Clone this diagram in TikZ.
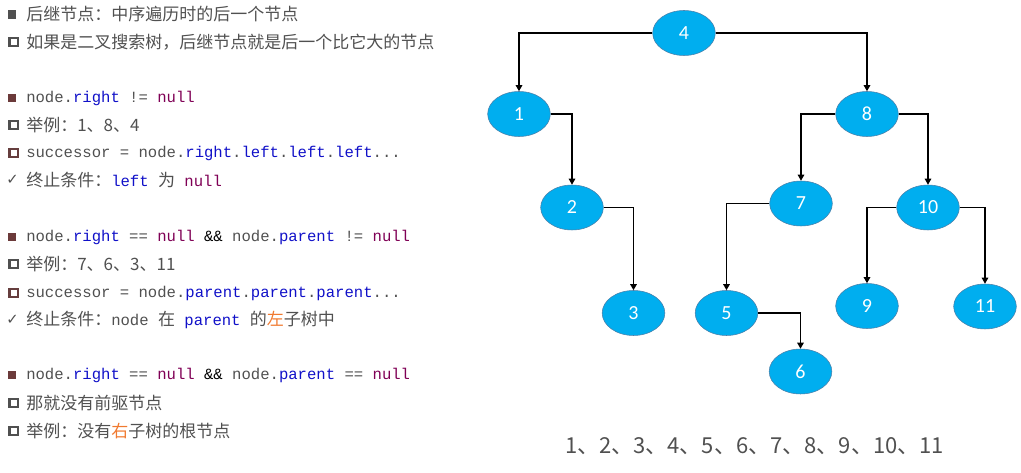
\documentclass[tikz,border=0pt]{standalone}
\usepackage{fontspec}
\setmainfont{Noto Sans CJK SC}
\setmonofont{Liberation Mono}
\newfontfamily\numfont{Carlito}
\newfontfamily\symfont{DejaVu Sans}
\usetikzlibrary{shapes.geometric,arrows.meta}
\definecolor{nodeblue}{HTML}{00AEEF}
\definecolor{nodeline}{HTML}{4A7EA8}
\definecolor{txtgray}{HTML}{505050}
\definecolor{kwblue}{HTML}{1010C8}
\definecolor{nullred}{HTML}{7F0055}
\definecolor{bulred}{HTML}{6B3A3A}
\definecolor{hiorange}{HTML}{F07A30}
\newcommand\code[1]{{\ttfamily\fontsize{11.7pt}{14pt}\selectfont #1}}
\newcommand\fld[1]{\textcolor{kwblue}{#1}}
\newcommand\nul{\textcolor{nullred}{null}}
\newcommand\hi[1]{\textcolor{hiorange}{#1}}

\begin{document}
\begin{tikzpicture}[x=0.75pt,y=-0.75pt,
	line/.style={anchor=west,inner sep=0,text=txtgray,font=\fontsize{12.75pt}{15pt}\selectfont},
	fsq/.style={fill=#1,inner sep=0,minimum size=6.2pt},
	hsq/.style={draw=#1,line width=1.8pt,inner sep=0,minimum size=6.2pt},
	ticknode/.style={anchor=west,inner sep=0,text=txtgray,font=\symfont\fontsize{11pt}{13pt}\selectfont},
	tnode/.style={ellipse,fill=nodeblue,draw=nodeline,line width=0.4pt,minimum width=47pt,minimum height=33.75pt,inner sep=0,text=white,font=\numfont\fontsize{15pt}{18pt}\selectfont},
	edge/.style={draw=black,line width=1.1pt,-{Triangle[length=4.5pt,width=4.8pt]}}]
	\useasboundingbox (0,0) rectangle (1021,473);
	\node[fsq=txtgray] (b1) at (12,14.5) {};
	\node[line] (l1) at (26,14) {后继节点：中序遍历时的后一个节点};
	\node[hsq=txtgray] (b2) at (13.6,42) {};
	\node[line] (l2) at (26,42) {如果是二叉搜索树，后继节点就是后一个比它大的节点};
	\node[fsq=bulred] (b3) at (12,98) {};
	\node[line] (l3) at (26,98) {\code{node.\fld{right} != \nul}};
	\node[hsq=txtgray] (b4) at (13.6,125) {};
	\node[line] (l4) at (26,125) {举例：1、8、4};
	\node[hsq=bulred!80!txtgray] (b5) at (13.6,153) {};
	\node[line] (l5) at (26,153) {\code{successor = node.\fld{right}.\fld{left}.\fld{left}.\fld{left}...}};
	\node[ticknode] (b6) at (6,180) {✓};
	\node[line] (l6) at (26,180) {终止条件：\code{\fld{left} }为\code{ \nul}};
	\node[fsq=bulred] (b7) at (12,237) {};
	\node[line] (l7) at (26,237) {\code{node.\fld{right} == \nul{} \textcolor{black}{\&\&} node.\fld{parent} != \nul}};
	\node[hsq=txtgray] (b8) at (13.6,264) {};
	\node[line] (l8) at (26,264) {举例：7、6、3、11};
	\node[hsq=bulred!80!txtgray] (b9) at (13.6,293) {};
	\node[line] (l9) at (26,293) {\code{successor = node.\fld{parent}.\fld{parent}.\fld{parent}...}};
	\node[ticknode] (b10) at (6,320) {✓};
	\node[line] (l10) at (26,320) {终止条件：\code{node }在\code{ \fld{parent} }的\hi{左}子树中};
	\node[fsq=bulred] (b11) at (12,375) {};
	\node[line] (l11) at (26,375) {\code{node.\fld{right} == \nul{} \textcolor{black}{\&\&} node.\fld{parent} == \nul}};
	\node[hsq=txtgray] (b12) at (13.6,403) {};
	\node[line] (l12) at (26,403) {那就没有前驱节点};
	\node[hsq=txtgray] (b13) at (13.6,431) {};
	\node[line] (l13) at (26,431) {举例：没有\hi{右}子树的根节点};
	\node[tnode] (n4) at (684,33) {4};
	\node[tnode] (n1) at (519,114) {1};
	\node[tnode] (n8) at (867,114) {8};
	\node[tnode] (n2) at (572,207.5) {2};
	\node[tnode] (n7) at (801,203.5) {7};
	\node[tnode] (n10) at (928,207.5) {10};
	\node[tnode] (n3) at (633.5,313) {3};
	\node[tnode] (n5) at (726.5,313) {5};
	\node[tnode] (n9) at (867,306) {9};
	\node[tnode] (n11) at (985,306.5) {11};
	\node[tnode] (n6) at (800.5,371.5) {6};
	\draw[edge] (n4.west) -| (n1.north);
	\draw[edge] (n4.east) -| (n8.north);
	\draw[edge] (n1.east) -| (n2.north);
	\draw[edge] (n2.east) -| (n3.north);
	\draw[edge] (n8.west) -| (n7.north);
	\draw[edge] (n8.east) -| (n10.north);
	\draw[edge] (n7.west) -| (n5.north);
	\draw[edge] (n5.east) -| (n6.north);
	\draw[edge] (n10.west) -| (n9.north);
	\draw[edge] (n10.east) -| (n11.north);
	\node[text=txtgray,inner sep=0,font=\fontsize{16.5pt}{19pt}\selectfont] (order) at (754.5,446) {1、2、3、4、5、6、7、8、9、10、11};
\end{tikzpicture}
\end{document}
